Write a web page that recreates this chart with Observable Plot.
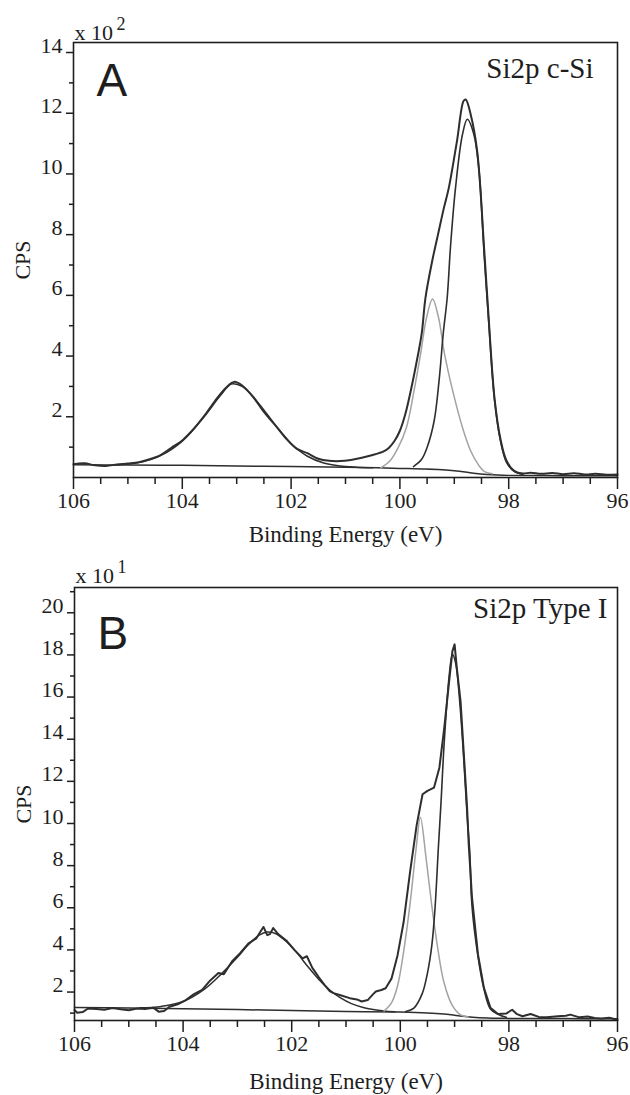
<!DOCTYPE html>
<html><head><meta charset="utf-8">
<script src="https://cdn.jsdelivr.net/npm/d3@7"></script>
<script src="https://cdn.jsdelivr.net/npm/@observablehq/plot@0.6"></script>
<style>
html,body{margin:0;padding:0;background:#fff;}
#chart svg{display:block;}
</style></head><body><div id="chart"></div>
<script>
// ---------- Tick values ----------
const xMajor = [106, 104, 102, 100, 98, 96];
const xMinor = [105.5, 105, 104.5, 103.5, 103, 102.5, 101.5, 101, 100.5, 99.5, 99, 98.5, 97.5, 97, 96.5];
const yMajorA = [2, 4, 6, 8, 10, 12, 14];
const yMinorA = [1, 3, 5, 7, 9, 11, 13];
const yMajorB = [2, 4, 6, 8, 10, 12, 14, 16, 18, 20];
const yMinorB = [1, 3, 5, 7, 9, 11, 13, 15, 17, 19, 21];

// ---------- Panel A: Si2p c-Si (CPS x 10^2) ----------
const aBackE = [106, 105, 104, 103, 102, 101, 100.4, 100, 99.6, 99.3, 99, 98.8, 98.6, 98.4, 98.2, 98, 97, 96];
const aBackC = [0.42, 0.41, 0.40, 0.38, 0.36, 0.34, 0.32, 0.30, 0.28, 0.26, 0.22, 0.18, 0.13, 0.10, 0.08, 0.07, 0.06, 0.06];

const aDataE = [106, 105.8, 105.6, 105.4, 105.2, 105.0, 104.8, 104.6, 104.4, 104.2, 104.0, 103.8, 103.6, 103.4, 103.2, 103.05, 102.9, 102.7, 102.5, 102.3, 102.1, 101.9, 101.7, 101.5, 101.3, 101.1, 100.9, 100.7, 100.5, 100.3, 100.2, 100.1, 100.0, 99.9, 99.8, 99.7, 99.6, 99.53, 99.41, 99.3, 99.19, 99.10, 98.95, 98.83, 98.79, 98.70, 98.58, 98.45, 98.37, 98.26, 98.15, 98.04, 97.9, 97.74, 97.6, 97.4, 97.2, 97.0, 96.8, 96.6, 96.4, 96.2, 96.0];
const aDataC = [0.44, 0.47, 0.40, 0.38, 0.43, 0.46, 0.50, 0.60, 0.74, 0.98, 1.22, 1.58, 2.02, 2.52, 2.95, 3.15, 3.03, 2.66, 2.16, 1.74, 1.30, 0.95, 0.80, 0.62, 0.55, 0.54, 0.58, 0.65, 0.74, 0.86, 0.98, 1.20, 1.54, 2.09, 2.86, 3.74, 4.73, 5.92, 7.10, 8.0, 8.89, 9.55, 11.09, 12.40, 12.45, 11.97, 10.76, 7.5, 5.3, 2.6, 1.25, 0.55, 0.22, 0.13, 0.16, 0.12, 0.15, 0.11, 0.14, 0.10, 0.12, 0.09, 0.10];

const aOxE = [105.2, 104.8, 104.4, 104.0, 103.6, 103.3, 103.1, 102.9, 102.6, 102.3, 102.0, 101.7, 101.4, 101.1, 100.8, 100.5];
const aOxC = [0.42, 0.49, 0.72, 1.20, 2.00, 2.70, 3.08, 3.00, 2.45, 1.75, 1.12, 0.70, 0.48, 0.38, 0.34, 0.32];

const aP12E = [100.35, 100.18, 100.03, 99.88, 99.74, 99.62, 99.51, 99.40, 99.29, 99.18, 99.03, 98.85, 98.70, 98.55, 98.45, 98.3];
const aP12C = [0.32, 0.55, 0.99, 1.65, 2.86, 4.07, 5.27, 5.88, 5.27, 4.07, 2.86, 1.65, 0.88, 0.40, 0.20, 0.12];

const aP32E = [99.75, 99.6, 99.5, 99.37, 99.28, 99.2, 99.13, 99.07, 98.98, 98.85, 98.76, 98.64, 98.55, 98.45, 98.37, 98.26, 98.15, 98.04, 97.9, 97.74];
const aP32C = [0.36, 0.60, 0.99, 1.87, 3.19, 4.80, 5.93, 7.6, 9.5, 11.3, 11.8, 11.3, 10.2, 7.3, 5.2, 2.55, 1.2, 0.5, 0.2, 0.1];

// ---------- Panel B: Si2p Type I (CPS x 10^1) ----------
const bBackE = [106, 105, 104, 103, 102, 101, 100, 99.5, 99.2, 99.0, 98.8, 98.6, 98.3, 98, 97, 96];
const bBackC = [1.27, 1.24, 1.21, 1.17, 1.12, 1.08, 1.05, 1.01, 0.96, 0.90, 0.84, 0.79, 0.76, 0.75, 0.74, 0.73];

const bDataE = [106.0, 105.95, 105.85, 105.75, 105.6, 105.45, 105.3, 105.15, 105.0, 104.85, 104.7, 104.55, 104.45, 104.35, 104.25, 104.1, 103.95, 103.8, 103.65, 103.5, 103.35, 103.25, 103.1, 102.95, 102.8, 102.65, 102.58, 102.52, 102.45, 102.4, 102.34, 102.25, 102.1, 101.95, 101.8, 101.72, 101.62, 101.5, 101.4, 101.3, 101.23, 101.1, 100.93, 100.8, 100.71, 100.6, 100.5, 100.45, 100.35, 100.27, 100.16, 100.05, 99.94, 99.82, 99.70, 99.59, 99.5, 99.38, 99.28, 99.19, 99.10, 99.04, 99.0, 98.96, 98.89, 98.83, 98.77, 98.74, 98.68, 98.57, 98.46, 98.34, 98.2, 98.05, 97.94, 97.85, 97.75, 97.6, 97.45, 97.3, 97.1, 96.95, 96.87, 96.7, 96.55, 96.42, 96.3, 96.15, 96.0];
const bDataC = [1.15, 1.02, 1.05, 1.22, 1.20, 1.16, 1.24, 1.18, 1.14, 1.22, 1.20, 1.26, 1.07, 1.10, 1.30, 1.42, 1.62, 1.90, 2.10, 2.55, 2.90, 2.85, 3.45, 3.85, 4.30, 4.55, 4.85, 5.09, 4.70, 4.75, 5.04, 4.75, 4.45, 4.00, 3.60, 3.70, 3.15, 2.70, 2.35, 2.05, 1.95, 1.85, 1.71, 1.65, 1.55, 1.62, 1.90, 2.03, 2.10, 2.18, 2.65, 3.75, 5.30, 7.70, 9.90, 11.39, 11.55, 11.70, 12.65, 14.55, 16.76, 18.18, 18.50, 17.40, 15.80, 13.30, 10.76, 9.0, 6.5, 3.8, 2.2, 1.25, 0.96, 0.98, 1.16, 0.95, 0.85, 0.96, 0.82, 0.80, 0.85, 0.88, 0.93, 0.80, 0.84, 0.77, 0.74, 0.78, 0.69];

const bOxE = [104.8, 104.4, 104.0, 103.6, 103.3, 103.0, 102.8, 102.6, 102.45, 102.3, 102.1, 101.9, 101.7, 101.5, 101.3, 101.1, 100.9, 100.7, 100.5, 100.3, 100.1];
const bOxC = [1.25, 1.32, 1.55, 2.15, 2.85, 3.65, 4.25, 4.70, 4.85, 4.78, 4.40, 3.85, 3.20, 2.60, 2.10, 1.72, 1.45, 1.28, 1.17, 1.10, 1.06];

const bP12E = [100.3, 100.16, 100.05, 99.94, 99.82, 99.71, 99.63, 99.53, 99.42, 99.31, 99.2, 99.05, 98.9, 98.75];
const bP12C = [1.10, 1.50, 2.30, 3.90, 6.20, 8.78, 10.30, 8.46, 6.10, 4.07, 2.50, 1.40, 0.93, 0.82];

const bP32E = [99.9, 99.75, 99.6, 99.5, 99.42, 99.36, 99.3, 99.25, 99.19, 99.1, 99.04, 98.98, 98.9, 98.83, 98.77, 98.72, 98.68, 98.57, 98.46, 98.34, 98.2, 98.05];
const bP32C = [1.08, 1.24, 1.90, 2.90, 4.20, 6.00, 8.80, 11.00, 13.90, 17.00, 18.03, 17.60, 15.60, 13.00, 10.40, 8.60, 6.10, 3.70, 2.15, 1.20, 0.95, 0.80];

// ---------- helpers ----------
const rows = (E, C) => E.map((e, i) => ({e, c: C[i]}));
const SERIF = "Liberation Serif, Times New Roman, serif";
const SANS = "Liberation Sans, Arial, sans-serif";
const DARK = "#2e2e2e";
const LIGHT = "#a3a3a3";

function panel(o) {
  return Plot.plot({
    width: 630,
    height: o.height,
    marginTop: o.mt, marginBottom: o.mb, marginLeft: o.ml, marginRight: 13,
    style: {fontFamily: SERIF, fontSize: "22px", color: "#1e1e1e", background: "#fff"},
    x: {domain: [106, 96]},
    y: {domain: o.ydomain},
    marks: [
      Plot.line(rows(o.back[0], o.back[1]), {x: "e", y: "c", stroke: DARK, strokeWidth: 1.5, curve: "catmull-rom"}),
      Plot.line(rows(o.ox[0], o.ox[1]), {x: "e", y: "c", stroke: DARK, strokeWidth: 1.5, curve: "catmull-rom"}),
      Plot.line(rows(o.p12[0], o.p12[1]), {x: "e", y: "c", stroke: LIGHT, strokeWidth: 1.5, curve: "catmull-rom"}),
      Plot.line(rows(o.p32[0], o.p32[1]), {x: "e", y: "c", stroke: DARK, strokeWidth: 1.6, curve: "catmull-rom"}),
      Plot.line(rows(o.data[0], o.data[1]), {x: "e", y: "c", stroke: DARK, strokeWidth: 2, curve: o.dataCurve}),
      Plot.frame({stroke: "#1e1e1e", strokeWidth: 1.6}),
      Plot.axisX({ticks: xMinor, tickSize: 7, tickFormat: () => "", label: null, strokeWidth: 1.5}),
      Plot.axisX({ticks: xMajor, tickSize: 12, tickPadding: 3, label: null, strokeWidth: 1.5, fontSize: 22}),
      Plot.axisY({ticks: o.yMinor, tickSize: 4, tickFormat: () => "", label: null, strokeWidth: 1.5}),
      Plot.axisY({ticks: o.yMajor, tickSize: 7, tickFormat: () => "", label: null, strokeWidth: 1.5}),
      Plot.axisY({ticks: o.yMajor, tickSize: 0, tickPadding: 11, dy: -7, label: null, fontSize: 22}),
      Plot.text(["x 10"], {frameAnchor: "top-left", dx: 1, dy: o.expDy, textAnchor: "start", lineAnchor: "bottom", fontSize: 22, fontFamily: SERIF}),
      Plot.text([o.exp], {frameAnchor: "top-left", dx: 43, dy: o.expDy - 10, textAnchor: "start", lineAnchor: "bottom", fontSize: 18, fontFamily: SERIF}),
      Plot.text([o.letter], {frameAnchor: "top-left", dx: 23, dy: o.letterDy, textAnchor: "start", lineAnchor: "bottom", fontSize: 46, fontFamily: SANS}),
      Plot.text([o.title], {frameAnchor: "top-right", dx: o.titleDx, dy: o.titleDy, textAnchor: "end", lineAnchor: "bottom", fontSize: 29, fontFamily: SERIF}),
      Plot.text(["CPS"], {frameAnchor: "left", dx: -51, rotate: -90, textAnchor: "middle", lineAnchor: "middle", fontSize: 22, fontFamily: SERIF}),
      Plot.text(["Binding Energy (eV)"], {frameAnchor: "bottom", dy: o.xlabDy, textAnchor: "middle", lineAnchor: "middle", fontSize: 23, fontFamily: SERIF})
    ]
  });
}

const chartA = panel({
  height: 548, mt: 42, mb: 71, ml: 73,
  ydomain: [0, 14.33], yMajor: yMajorA, yMinor: yMinorA,
  back: [aBackE, aBackC], ox: [aOxE, aOxC], p12: [aP12E, aP12C], p32: [aP32E, aP32C], data: [aDataE, aDataC],
  dataCurve: "catmull-rom",
  exp: "2", expDy: -3, letter: "A", letterDy: 53, title: "Si2p c-Si", titleDx: -24, titleDy: 35, xlabDy: 57
});
const chartB = panel({
  height: 547, mt: 39, mb: 75, ml: 74,
  ydomain: [0.65, 21.2], yMajor: yMajorB, yMinor: yMinorB,
  back: [bBackE, bBackC], ox: [bOxE, bOxC], p12: [bP12E, bP12C], p32: [bP32E, bP32C], data: [bDataE, bDataC],
  dataCurve: "linear",
  exp: "1", expDy: -5, letter: "B", letterDy: 61, title: "Si2p Type I", titleDx: -10, titleDy: 30, xlabDy: 61
});
const root = document.getElementById("chart");
root.appendChild(chartA);
root.appendChild(chartB);
</script>
</body></html>
